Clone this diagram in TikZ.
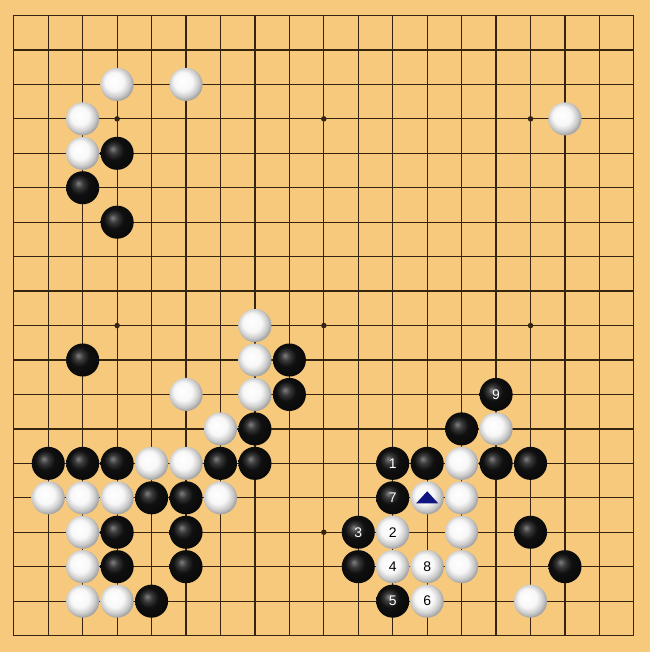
\documentclass[tikz,border=0pt]{standalone}
\usepackage{fontspec}
\setsansfont{Liberation Sans}
\definecolor{boardwood}{RGB}{246,201,125}
\definecolor{gridline}{RGB}{52,36,16}
\definecolor{marknavy}{RGB}{16,20,128}
\pgfdeclareradialshading{blackstone}{\pgfpoint{-7bp}{7bp}}{color(0bp)=(black!50); color(7bp)=(black!78); color(15bp)=(black!94); color(50bp)=(black)}
\pgfdeclareradialshading{whitestone}{\pgfpoint{-6bp}{6bp}}{color(0bp)=(white); color(14bp)=(white!97!black); color(22bp)=(black!20); color(29bp)=(black!42); color(50bp)=(black!42)}
\tikzset{
  bstone/.style={circle, minimum size=0.96cm, inner sep=0pt, shading=blackstone,
    text=white, font=\sffamily\fontsize{11.5}{12}\selectfont},
  wstone/.style={circle, minimum size=0.96cm, inner sep=0pt, shading=whitestone,
    text=black, font=\sffamily\fontsize{11.5}{12}\selectfont},
  starpt/.style={circle, fill=gridline, minimum size=0.16cm, inner sep=0pt}
}
\begin{document}
\begin{tikzpicture}[x=1cm, y=-1cm]
  % Board
  \fill[boardwood] (-0.4,-0.45) rectangle (18.468,18.476);
  \useasboundingbox (-0.4,-0.45) rectangle (18.468,18.476);
  \foreach \i in {0,...,18} {
    \draw[gridline, line width=1pt] (\i,0) -- (\i,18);
    \draw[gridline, line width=1pt] (0,\i) -- (18,\i);
  }
  % Hoshi
  \foreach \x/\y in {3/3,9/3,15/3,3/9,9/9,15/9,3/15,9/15,15/15}
    \node[starpt] (h-\x-\y) at (\x,\y) {};
  % Black stones
  \foreach \x/\y in {3/4,2/5,3/6,2/10,8/10,8/11,7/12,13/12,1/13,2/13,3/13,6/13,7/13,
                     12/13,14/13,15/13,4/14,5/14,3/15,5/15,15/15,3/16,5/16,10/16,16/16,4/17}
    \node[bstone] (s-\x-\y) at (\x,\y) {};
  % White stones
  \foreach \x/\y in {3/2,5/2,2/3,16/3,2/4,7/9,7/10,5/11,7/11,6/12,14/12,4/13,5/13,13/13,
                     1/14,2/14,3/14,6/14,12/14,13/14,2/15,13/15,2/16,13/16,2/17,3/17,15/17}
    \node[wstone] (s-\x-\y) at (\x,\y) {};
  % Moves
  \foreach \n/\x/\y in {1/11/13,3/10/15,5/11/17,7/11/14,9/14/11}
    \node[bstone] (m-\n) at (\x,\y) {\n};
  \foreach \n/\x/\y in {2/11/15,4/11/16,6/12/17,8/12/16}
    \node[wstone] (m-\n) at (\x,\y) {\n};
  % Triangle mark
  \fill[marknavy] ([shift={(0,-0.19)}]s-12-14.center) -- ([shift={(0.32,0.16)}]s-12-14.center)
    -- ([shift={(-0.32,0.16)}]s-12-14.center) -- cycle;
\end{tikzpicture}
\end{document}
